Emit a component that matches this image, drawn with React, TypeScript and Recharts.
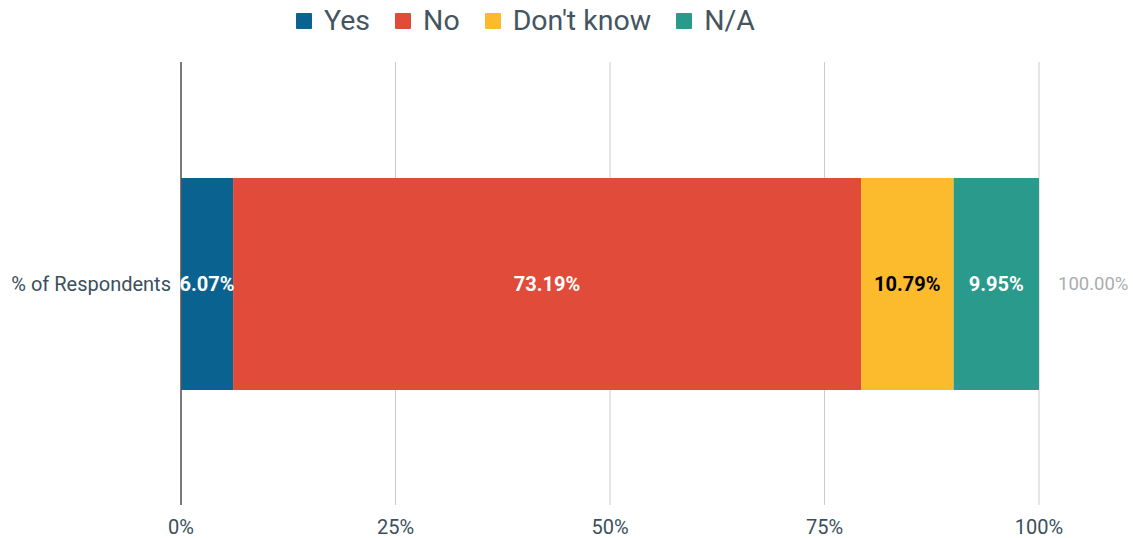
import { BarChart, Bar, XAxis, YAxis, CartesianGrid, LabelList } from "recharts";

// values
const categories = ["% of Respondents"];
const yesValues = [6.07];
const noValues = [73.19];
const dontKnowValues = [10.79];
const naValues = [9.95];
const xTicks = [0, 25, 50, 75, 100];

const seriesDefs = [
  { key: "yes", name: "Yes", color: "#0a6291", labelColor: "#ffffff" },
  { key: "no", name: "No", color: "#e04c39", labelColor: "#ffffff" },
  { key: "dontKnow", name: "Don't know", color: "#fcba2d", labelColor: "#000000" },
  { key: "na", name: "N/A", color: "#299a8b", labelColor: "#ffffff" },
];

const data = categories.map((c, i) => ({
  category: c,
  yes: yesValues[i],
  no: noValues[i],
  dontKnow: dontKnowValues[i],
  na: naValues[i],
  total: yesValues[i] + noValues[i] + dontKnowValues[i] + naValues[i],
}));

const FONT = "Roboto, 'Noto Sans', sans-serif";

// legend sits above the plot without eating into its height
function TopLegend() {
  return (
    <div
      style={{
        position: "absolute",
        left: 296,
        top: 4,
        display: "flex",
        alignItems: "center",
        fontFamily: FONT,
        fontSize: 28.5,
        color: "#44555f",
        whiteSpace: "nowrap",
      }}
    >
      {seriesDefs.map((s) => (
        <div key={s.key} style={{ display: "flex", alignItems: "center", marginRight: 25 }}>
          <span style={{ display: "inline-block", width: 16, height: 16, background: s.color, marginRight: 12, borderRadius: 1 }} />
          <span>{s.name}</span>
        </div>
      ))}
    </div>
  );
}

const segmentLabel = (color: string) => (props: any) => {
  const { x, y, width, height, value } = props;
  return (
    <text
      x={x + width / 2}
      y={y + height / 2}
      textAnchor="middle"
      dominantBaseline="central"
      fill={color}
      fontFamily={FONT}
      fontSize={20}
      fontWeight="bold"
    >
      {`${Number(value).toFixed(2)}%`}
    </text>
  );
};

const totalLabel = (props: any) => {
  const { x, y, width, height, index } = props;
  return (
    <text
      x={x + width + 19}
      y={y + height / 2}
      textAnchor="start"
      dominantBaseline="central"
      fill="#a9adb0"
      fontFamily={FONT}
      fontSize={18.5}
    >
      {`${data[index].total.toFixed(2)}%`}
    </text>
  );
};

export default function App() {
  return (
    <div style={{ position: "absolute", left: 0, top: 0, width: 1133, height: 538 }}>
      <BarChart
        width={1133}
        height={538}
        data={data}
        layout="vertical"
        margin={{ top: 62, right: 94, bottom: 0, left: 0 }}
        barSize={212}
      >
        <CartesianGrid horizontal={false} stroke="#cccccc" />
        <XAxis
          type="number"
          domain={[0, 100]}
          ticks={xTicks}
          tickFormatter={(v) => `${v}%`}
          axisLine={false}
          tickLine={false}
          height={33}
          tick={{ fill: "#3c4f5c", fontSize: 20, fontFamily: FONT }}
          tickMargin={9}
        />
        <YAxis
          type="category"
          dataKey="category"
          width={181}
          axisLine={{ stroke: "#555555", strokeWidth: 1.5 }}
          tickLine={false}
          tick={{ fill: "#3c4f5c", fontSize: 20, fontFamily: FONT }}
          tickMargin={4}
        />
        {seriesDefs.map((s, i) => (
          <Bar
            key={s.key}
            dataKey={s.key}
            name={s.name}
            stackId="a"
            fill={s.color}
            isAnimationActive={false}
          >
            <LabelList dataKey={s.key} content={segmentLabel(s.labelColor)} />
            {i === seriesDefs.length - 1 && <LabelList dataKey={s.key} content={totalLabel} />}
          </Bar>
        ))}
      </BarChart>
      <TopLegend />
    </div>
  );
}
